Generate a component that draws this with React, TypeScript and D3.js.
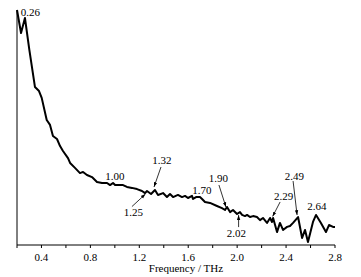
import React from "react";
import * as d3 from "d3";

// Frequency (THz) samples
const freq = [
  0.2, 0.233, 0.265, 0.301, 0.347, 0.38, 0.402, 0.443, 0.47, 0.494, 0.527, 0.552, 0.576, 0.617, 0.634,
  0.674, 0.715, 0.74, 0.772, 0.813, 0.854, 0.895, 0.936, 0.961, 0.985, 1.002, 1.026, 1.067, 1.099,
  1.14, 1.181, 1.222, 1.247, 1.263, 1.296, 1.328, 1.353, 1.394, 1.426, 1.451, 1.476, 1.516, 1.549,
  1.574, 1.598, 1.631, 1.639, 1.664, 1.696, 1.713, 1.737, 1.778, 1.835, 1.876, 1.901, 1.917, 1.942,
  1.966, 1.999, 2.023, 2.04, 2.064, 2.081, 2.105, 2.13, 2.162, 2.187, 2.211, 2.244, 2.269, 2.285,
  2.294, 2.326, 2.35, 2.375, 2.408, 2.432, 2.457, 2.498, 2.531, 2.555, 2.579, 2.62, 2.645, 2.685,
  2.726, 2.751, 2.784, 2.8,
];
// Absorption (arbitrary units)
const absorb = [
  100, 90.2, 96.6, 83.0, 67.2, 65.5, 62.6, 53.2, 51.1, 46.4, 45.1, 42.1, 40.0, 37.0, 34.9,
  32.8, 30.6, 31.1, 29.8, 28.9, 26.8, 26.4, 26.4, 25.5, 26.4, 25.5, 25.5, 25.5, 24.7,
  24.3, 23.8, 23.0, 22.1, 23.0, 21.7, 23.4, 21.3, 22.1, 20.4, 21.7, 20.4, 21.3, 20.4,
  20.9, 20.0, 20.9, 19.6, 20.4, 20.4, 19.6, 18.3, 17.9, 16.6, 15.7, 14.9, 16.2, 14.0,
  14.9, 13.2, 14.0, 12.8, 12.3, 12.8, 11.9, 12.3, 11.9, 10.6, 11.5, 9.4, 11.5, 9.8,
  11.5, 5.5, 9.4, 6.4, 7.7, 8.1, 9.4, 11.9, 3.0, 6.4, 1.3, 9.8, 12.8, 9.4,
  5.5, 8.5, 7.7, 7.7,
];

const xTicks = [0.2, 0.4, 0.6, 0.8, 1.0, 1.2, 1.4, 1.6, 1.8, 2.0, 2.2, 2.4, 2.6, 2.8];
const xTickLabels = ["0.4", "0.8", "1.2", "1.6", "2.0", "2.4", "2.8"];

// Peak annotations
const peakLabels = ["0.26", "1.00", "1.25", "1.32", "1.70", "1.90", "2.02", "2.29", "2.49", "2.64"];

// layout offsets of annotations relative to their peak (label dx, dy; arrow from / to)
const peakLayout: Record<string, { dx: number; dy: number; arrow?: [number, number, number, number] }> = {
  "0.26": { dx: 6, dy: -2 },
  "1.00": { dx: 0, dy: -5 },
  "1.25": { dx: -12, dy: 22.5, arrow: [-13.5, 13.5, 0, 1] },
  "1.32": { dx: 8, dy: -26, arrow: [7, -23, 0, -3] },
  "1.70": { dx: 1.5, dy: -3 },
  "1.90": { dx: -6.5, dy: -28, arrow: [-6, -25, 1, -3] },
  "2.02": { dx: -3.3, dy: 24.5, arrow: [-1, 15, -1, 3] },
  "2.29": { dx: 11, dy: -18, arrow: [7.5, -16, 0, -1.5] },
  "2.49": { dx: -2.7, dy: -37, arrow: [-4, -36, 0, -2] },
  "2.64": { dx: 1.5, dy: -4.5 },
};

const W = 361;
const H = 277;
const X0 = 17;
const X1 = 335;
const Y0 = 245;
const Y1 = 10;
const FONT = '"Liberation Serif", "Times New Roman", Times, serif';
const textStyle = { fontFamily: FONT, fontSize: "11px" };

export default function App() {
  const x = d3.scaleLinear().domain([0.2, 2.8]).range([X0, X1]);
  const y = d3.scaleLinear().domain([0, 100]).range([Y0, Y1]);
  const data = freq.map((f, i) => ({ f, v: absorb[i] }));
  const line = d3
    .line<{ f: number; v: number }>()
    .x((d) => x(d.f))
    .y((d) => y(d.v));

  const nearest = (f: number) => {
    let best = data[0];
    for (const d of data) if (Math.abs(d.f - f) < Math.abs(best.f - f)) best = d;
    return best;
  };

  return (
    <svg width={W} height={H} style={{ position: "absolute", left: 0, top: 0, background: "#fff" }}>
      <defs>
        <marker id="ah" viewBox="0 0 10 10" refX="10" refY="5" markerWidth="6" markerHeight="6" orient="auto">
          <path d="M0,1.5 L10,5 L0,8.5 z" fill="#000" />
        </marker>
      </defs>
      <rect x={0} y={0} width={W} height={H} fill="#fff" />
      {/* axes */}
      <line x1={X0} x2={X0} y1={Y1} y2={Y0} stroke="#000" strokeWidth={1} />
      <line x1={X0} x2={X1} y1={Y0} y2={Y0} stroke="#000" strokeWidth={1} />
      {xTicks.map((t) => (
        <line key={t} x1={x(t)} x2={x(t)} y1={Y0} y2={Y0 + 3} stroke="#000" strokeWidth={1} />
      ))}
      {xTickLabels.map((t) => (
        <text key={t} x={x(+t)} y={261} textAnchor="middle" style={textStyle} fill="#000">
          {t}
        </text>
      ))}
      <text x={186} y={272} textAnchor="middle" style={textStyle} fill="#000">
        Frequency / THz
      </text>
      {/* curve */}
      <path d={line(data) || ""} fill="none" stroke="#000" strokeWidth={2} strokeLinejoin="round" />
      {/* annotations */}
      {peakLabels.map((lab) => {
        const f = +lab;
        const p = nearest(f);
        const ax = x(f);
        const ay = y(p.v);
        const L = peakLayout[lab];
        return (
          <g key={lab}>
            <text x={ax + L.dx} y={ay + L.dy} textAnchor="middle" style={textStyle} fill="#000">
              {lab}
            </text>
            {L.arrow && (
              <line
                x1={ax + L.arrow[0]}
                y1={ay + L.arrow[1]}
                x2={ax + L.arrow[2]}
                y2={ay + L.arrow[3]}
                stroke="#000"
                strokeWidth={0.8}
                markerEnd="url(#ah)"
              />
            )}
          </g>
        );
      })}
    </svg>
  );
}
